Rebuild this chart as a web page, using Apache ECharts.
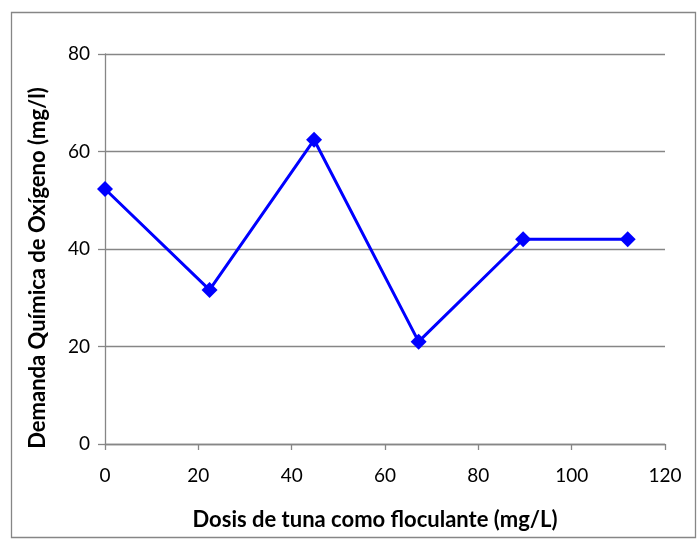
<!DOCTYPE html>
<html>
<head>
<meta charset="utf-8">
<script src="https://cdn.jsdelivr.net/npm/echarts@6/dist/echarts.min.js"></script>
<style>
  html, body { margin: 0; padding: 0; background: #fff; }
  #chart { width: 697px; height: 541px; }
</style>
</head>
<body>
<div id="chart"></div>
<script>
// Dosis de tuna (mg/L) and the measured DQO (mg/l)
const dosis = [0, 22.4, 44.8, 67.2, 89.6, 112];
const dqo = [52.3, 31.6, 62.4, 21.0, 42.0, 42.0];
const xTicks = [0, 20, 40, 60, 80, 100, 120];
const yTicks = [0, 20, 40, 60, 80];
const xTitle = 'Dosis de tuna como floculante (mg/L)';
const yTitle = 'Demanda Química de Oxígeno (mg/l)';

const FONT = 'Lato, "Open Sans", sans-serif';
const titleStyle = { fontFamily: FONT, fontWeight: 'bold', fontSize: 22, fill: '#000',
                     align: 'center', verticalAlign: 'middle' };
const chart = echarts.init(document.getElementById('chart'), null, { renderer: 'canvas' });

chart.setOption({
  backgroundColor: '#ffffff',
  animation: false,
  graphic: [
    {
      type: 'rect',
      shape: { x: 11.5, y: 12.5, width: 684, height: 525 },
      style: { fill: 'none', stroke: '#868686', lineWidth: 1.3 },
      silent: true
    },
    {
      type: 'text', x: 375, y: 520,
      style: Object.assign({ text: xTitle }, titleStyle), silent: true
    },
    {
      type: 'text', x: 38, y: 268, rotation: Math.PI / 2,
      style: Object.assign({ text: yTitle }, titleStyle), silent: true
    }
  ],
  grid: { left: 105, right: 32, top: 54, bottom: 97, containLabel: false },
  xAxis: {
    type: 'value',
    min: xTicks[0], max: xTicks[xTicks.length - 1], interval: 20,
    axisLine: { show: true, onZero: false, lineStyle: { color: '#868686', width: 1.3 } },
    axisTick: { show: true, inside: false, length: 6, lineStyle: { color: '#868686', width: 1.3 } },
    axisLabel: { fontFamily: FONT, fontSize: 19, color: '#000', margin: 22 },
    splitLine: { show: false }
  },
  yAxis: {
    type: 'value',
    min: yTicks[0], max: yTicks[yTicks.length - 1], interval: 20,
    axisLine: { show: true, lineStyle: { color: '#868686', width: 1.3 } },
    axisTick: { show: true, inside: false, length: 7, lineStyle: { color: '#868686', width: 1.3 } },
    axisLabel: { fontFamily: FONT, fontSize: 19, color: '#000', margin: 15 },
    splitLine: { show: true, lineStyle: { color: '#868686', width: 1.3 } }
  },
  series: [{
    type: 'line',
    data: dosis.map((d, i) => [d, dqo[i]]),
    symbol: 'diamond',
    symbolSize: 16,
    lineStyle: { color: '#0000ff', width: 3 },
    itemStyle: { color: '#0000ff' },
    clip: false
  }]
});
</script>
</body>
</html>
